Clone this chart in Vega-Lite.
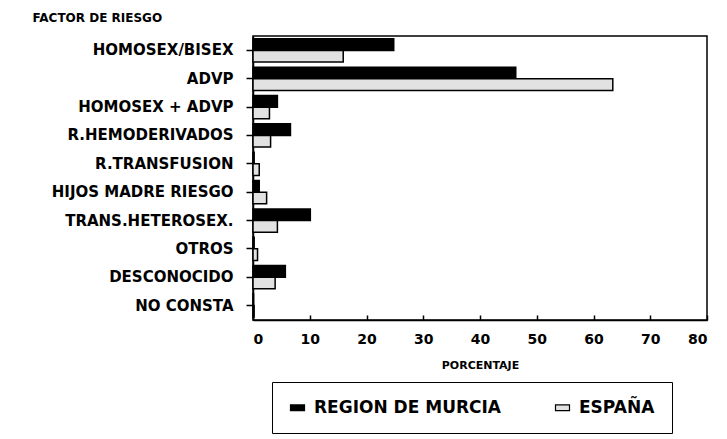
{
  "$schema": "https://vega.github.io/schema/vega-lite/v6.json",
  "autosize": {"type": "none"},
  "width": 454,
  "height": 284,
  "padding": {"left": 253, "top": 36, "right": 20, "bottom": 119},
  "background": "white",
  "config": {
    "font": "DejaVu Sans",
    "view": {"stroke": "black", "strokeWidth": 1.5},
    "axis": {"grid": false, "domainColor": "black", "tickColor": "black", "labelColor": "black", "titleColor": "black", "labelFontWeight": "bold", "titleFontWeight": "bold", "labelLimit": 400}
  },
  "data": {
    "values": [
      {"factor": "HOMOSEX/BISEX", "serie": "REGION DE MURCIA", "pct": 24.8},
      {"factor": "HOMOSEX/BISEX", "serie": "ESPAÑA", "pct": 15.9},
      {"factor": "ADVP", "serie": "REGION DE MURCIA", "pct": 46.3},
      {"factor": "ADVP", "serie": "ESPAÑA", "pct": 63.4},
      {"factor": "HOMOSEX + ADVP", "serie": "REGION DE MURCIA", "pct": 4.3},
      {"factor": "HOMOSEX + ADVP", "serie": "ESPAÑA", "pct": 2.9},
      {"factor": "R.HEMODERIVADOS", "serie": "REGION DE MURCIA", "pct": 6.6},
      {"factor": "R.HEMODERIVADOS", "serie": "ESPAÑA", "pct": 3.1},
      {"factor": "R.TRANSFUSION", "serie": "REGION DE MURCIA", "pct": 0.2},
      {"factor": "R.TRANSFUSION", "serie": "ESPAÑA", "pct": 1.1},
      {"factor": "HIJOS MADRE RIESGO", "serie": "REGION DE MURCIA", "pct": 1.1},
      {"factor": "HIJOS MADRE RIESGO", "serie": "ESPAÑA", "pct": 2.4},
      {"factor": "TRANS.HETEROSEX.", "serie": "REGION DE MURCIA", "pct": 10.1},
      {"factor": "TRANS.HETEROSEX.", "serie": "ESPAÑA", "pct": 4.3},
      {"factor": "OTROS", "serie": "REGION DE MURCIA", "pct": 0.2},
      {"factor": "OTROS", "serie": "ESPAÑA", "pct": 0.8},
      {"factor": "DESCONOCIDO", "serie": "REGION DE MURCIA", "pct": 5.7},
      {"factor": "DESCONOCIDO", "serie": "ESPAÑA", "pct": 3.9},
      {"factor": "NO CONSTA", "serie": "REGION DE MURCIA", "pct": 0.1},
      {"factor": "NO CONSTA", "serie": "ESPAÑA", "pct": 0.2}
    ]
  },
  "mark": {"type": "bar", "stroke": "black", "strokeWidth": 1.5},
  "encoding": {
    "y": {
      "field": "factor",
      "type": "nominal",
      "sort": ["HOMOSEX/BISEX", "ADVP", "HOMOSEX + ADVP", "R.HEMODERIVADOS", "R.TRANSFUSION", "HIJOS MADRE RIESGO", "TRANS.HETEROSEX.", "OTROS", "DESCONOCIDO", "NO CONSTA"],
      "scale": {"paddingInner": 0.18, "paddingOuter": 0.1},
      "axis": {
        "title": "FACTOR DE RIESGO",
        "titleAngle": 0,
        "titleAlign": "left",
        "titleBaseline": "middle",
        "titleX": -221,
        "titleY": -19,
        "titleFontSize": 12,
        "labelFontSize": 15,
        "labelPadding": 13,
        "labelLimit": 400,
        "tickSize": 7,
        "domainWidth": 1.5,
        "tickWidth": 1.5
      }
    },
    "yOffset": {"field": "serie", "type": "nominal", "sort": ["REGION DE MURCIA", "ESPAÑA"]},
    "x": {
      "field": "pct",
      "type": "quantitative",
      "scale": {"domain": [0, 80], "nice": false},
      "axis": {
        "title": "PORCENTAJE",
        "titleFontSize": 11,
        "titlePadding": 13,
        "values": [0, 10, 20, 30, 40, 50, 60, 70, 80],
        "labelFontSize": 14,
        "labelPadding": 17,
        "tickSize": -5,
        "domainWidth": 1.5,
        "tickWidth": 1.5
      }
    },
    "fill": {
      "field": "serie",
      "type": "nominal",
      "sort": ["REGION DE MURCIA", "ESPAÑA"],
      "scale": {"domain": ["REGION DE MURCIA", "ESPAÑA"], "range": ["#000000", "#e2e2e2"]},
      "legend": {
        "title": null,
        "orient": "none",
        "legendX": 19,
        "legendY": 346,
        "direction": "horizontal",
        "strokeColor": "black",
        "padding": 17,
        "symbolType": "M-1,-0.4H1V0.4H-1Z",
        "symbolSize": 196,
        "symbolStrokeColor": "black",
        "symbolStrokeWidth": 1.2,
        "labelFontSize": 17,
        "labelFontWeight": "bold",
        "labelColor": "black",
        "labelOffset": 8,
        "labelLimit": 400,
        "columnPadding": 52
      }
    }
  }
}
